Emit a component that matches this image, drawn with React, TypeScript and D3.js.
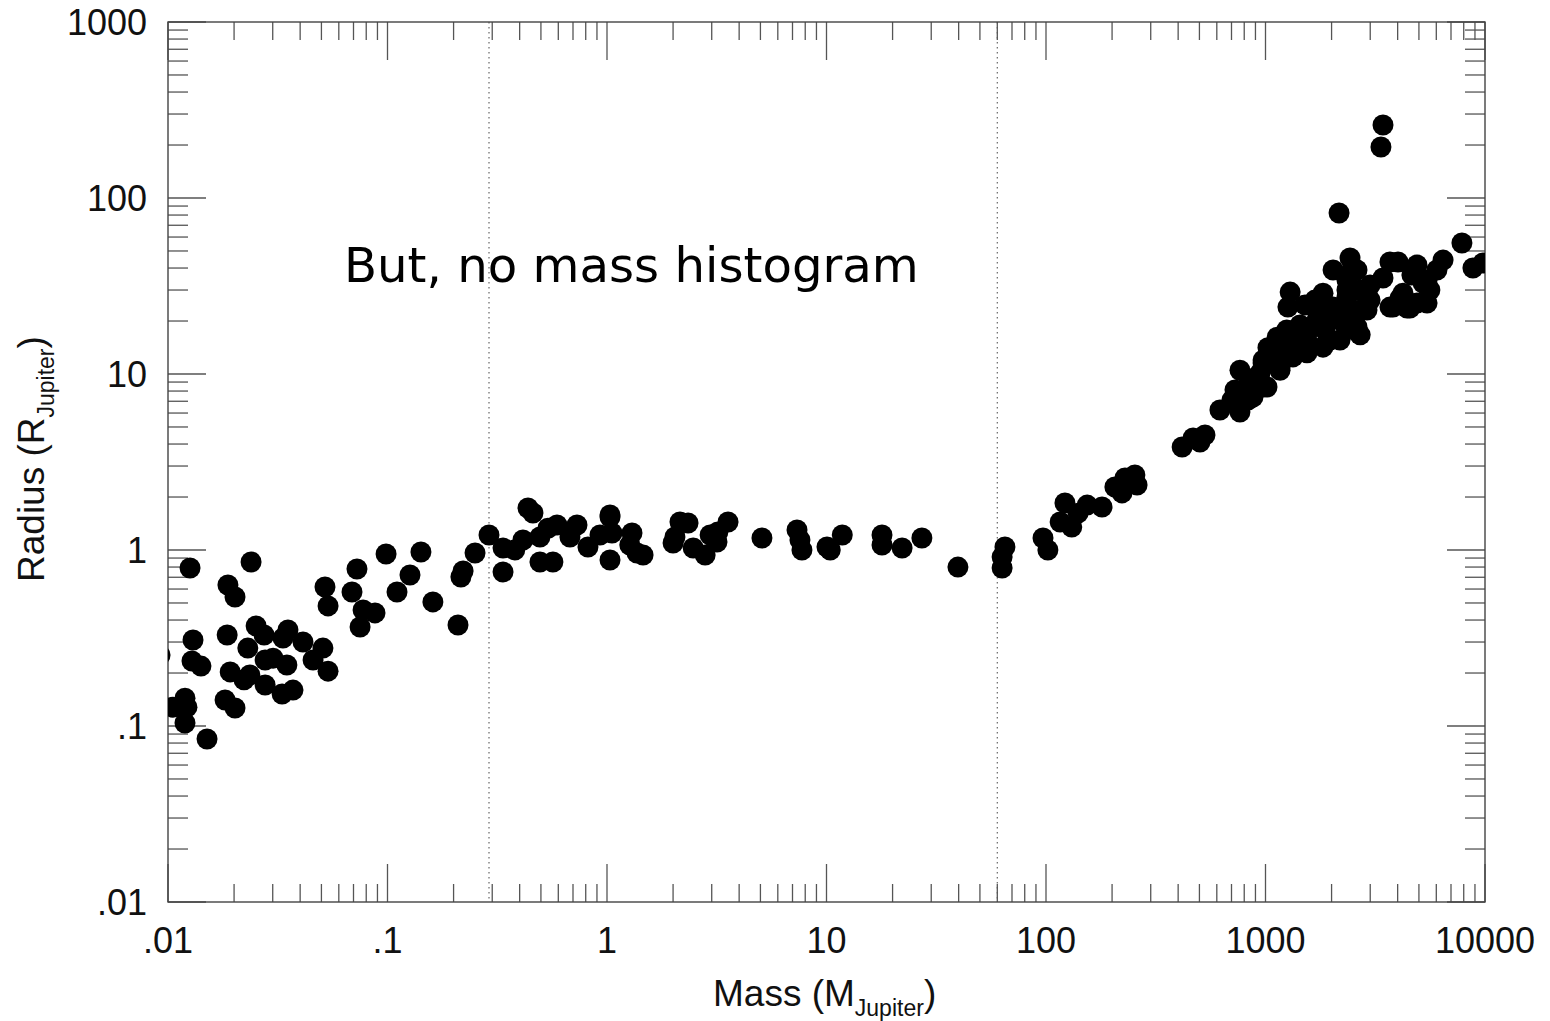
import React from "react";
import * as d3 from "d3";

// ---------- data (mass in M_Jupiter, radius in R_Jupiter) ----------
const massValues: number[] = [
  // low-mass cluster
  0.0126, 0.0239, 0.01875, 0.0202, 0.013, 0.0186, 0.01286, 0.01413, 0.0252, 0.0274,
  0.0231, 0.0352, 0.0334, 0.0412, 0.0192, 0.0222, 0.0236, 0.0277, 0.0301, 0.0348,
  0.0277, 0.0508, 0.0458, 0.0536, 0.0182, 0.0202, 0.0331, 0.0371, 0.01195, 0.01054,
  0.0122, 0.01195, 0.01506, 0.0519, 0.0536, 0.0726, 0.0689, 0.0774, 0.0877, 0.075,
  0.0985, 0.142, 0.1266, 0.1105, 0.161, 0.2095, 0.221, 0.216, 0.2505, 0.29,
  0.336, 0.336, 0.4365, 0.46, 0.414, 0.495, 0.592, 0.495, 0.567, 0.73,
  0.678, 0.819, 1.032, 1.032, 1.3, 1.37, 0.38, 0.538, 0.929, 0.0092,
  // planets / brown dwarfs plateau
  1.032, 1.054, 1.27, 1.46, 2.15, 2.04, 2.0, 2.34, 2.47, 2.8,
  2.95, 3.2, 3.56, 3.17, 5.08, 7.34, 7.57, 7.73, 10.05, 10.4,
  11.8, 17.9, 17.9, 22.1, 27.2, 39.7, 65.0, 63.1, 63.1, 96.9, 102,
  // stars
  122, 116, 131, 140, 154, 180, 206, 222, 229, 254,
  260, 417, 468, 530, 503, 620, 765, 765, 807, 832,
  877, 975, 975, 1050, 1130, 1250, 1265, 1165, 1295, 1437,
  1718, 2032, 2185, 2637, 2900, 3810, 4550, 5445,
  // upper right
  3430, 3357, 2163, 7850, 8810, 9790, 6440, 6040, 4900, 4645,
  5220, 5610, 4230, 3690, 4015, 3430, 4100, 3690, 4415, 4900,
  2427, 2612, 2032, 2350, 1828, 1295, 2900, 2500, 1718, 2118, 1968, 1026,
  // dense stellar clump
  2500, 5445, 1771, 2032, 2350, 2700, 2612, 2700, 1828, 1546,
  1082, 975, 824, 944, 1334, 1165, 1016, 1645, 2185, 1771,
  2350, 2995, 726, 703,
  1437, 1595, 1866, 2301, 1295, 1104, 895, 1228, 1680, 1514, 2995,
];

const radiusValues: number[] = [
  0.79, 0.855, 0.633, 0.541, 0.308, 0.329, 0.234, 0.219, 0.37, 0.329,
  0.277, 0.351, 0.316, 0.3, 0.203, 0.183, 0.195, 0.237, 0.243, 0.222,
  0.171, 0.277, 0.237, 0.205, 0.1406, 0.1265, 0.152, 0.16, 0.144, 0.128,
  0.128, 0.104, 0.0844, 0.616, 0.481, 0.78, 0.577, 0.456, 0.439, 0.365,
  0.949, 0.974, 0.721, 0.577, 0.507, 0.375, 0.76, 0.702, 0.962, 1.217,
  1.026, 0.75, 1.732, 1.623, 1.14, 1.185, 1.387, 0.855, 0.855, 1.387,
  1.185, 1.04, 1.54, 0.877, 1.249, 0.962, 1.0, 1.33, 1.217, 0.253,
  1.58, 1.249, 1.067, 0.937, 1.443, 1.185, 1.096, 1.424, 1.026, 0.937,
  1.217, 1.266, 1.443, 1.11, 1.17, 1.3, 1.14, 1.0, 1.04, 1.0,
  1.217, 1.217, 1.067, 1.026, 1.17, 0.8, 1.04, 0.912, 0.79, 1.17, 1.0,
  1.85, 1.443, 1.35, 1.62, 1.8, 1.755, 2.28, 2.11, 2.565, 2.67,
  2.34, 3.85, 4.33, 4.5, 4.11, 6.24, 6.08, 10.5, 8.11, 7.11,
  7.4, 8.44, 11.55, 13.2, 16.2, 17.8, 24.0, 10.96, 13.7, 15.6,
  20.3, 24.0, 15.6, 17.3, 23.1, 24.0, 23.7, 25.3,
  260, 195, 82.2, 55.5, 40.0, 42.7, 44.4, 39.0, 41.6, 36.5,
  32.9, 30.0, 28.8, 43.3, 43.3, 35.1, 27.0, 24.0, 23.7, 25.3,
  45.6, 39.0, 39.0, 30.0, 28.8, 29.2, 25.3, 23.1, 23.1, 21.1, 15.6, 14.1,
  40.5, 34.2, 21.1, 23.1, 27.4, 30.0, 18.5, 16.7, 14.2, 13.2,
  13.7, 12.0, 8.44, 10.1, 12.5, 10.5, 8.44, 18.5, 20.3, 25.3,
  34.2, 26.3, 8.11, 7.11,
  19.0, 14.6, 17.8, 19.0, 15.6, 12.8, 9.49, 14.6, 26.3, 24.7, 32.0,
];

const xTickValues = [0.01, 0.1, 1, 10, 100, 1000, 10000];
const xTickLabels = [".01", ".1", "1", "10", "100", "1000", "10000"];
const yTickValues = [0.01, 0.1, 1, 10, 100, 1000];
const yTickLabels = [".01", ".1", "1", "10", "100", "1000"];
const dividerMasses = [0.29, 60];
const annotation = "But, no mass histogram";

// ---------- layout ----------
const W = 1550;
const H = 1021;
const L = 168, R = 1485, T = 22, B = 902;

export default function App() {
  const x = d3.scaleLog().domain([0.01, 10000]).range([L, R]);
  const y = d3.scaleLog().domain([0.01, 1000]).range([B, T]);
  const isMajor = (v: number) => Math.abs(Math.log10(v) - Math.round(Math.log10(v))) < 1e-6;
  const xt = x.ticks();
  const yt = y.ticks();
  const tickColor = "#555";
  const pts = massValues.map((m, i) => [m, radiusValues[i]] as [number, number]);
  const helv = "'Liberation Sans', Arial, Helvetica, sans-serif";

  return (
    <svg width={W} height={H} style={{ position: "absolute", left: 0, top: 0, background: "#fff" }}
      xmlns="http://www.w3.org/2000/svg">
      <defs>
        <clipPath id="plotClip">
          <rect x={L} y={T} width={R - L} height={B - T} />
        </clipPath>
      </defs>
      <rect x={0} y={0} width={W} height={H} fill="#fff" />

      {/* dotted dividers */}
      {dividerMasses.map((m, i) => (
        <line key={"dv" + i} x1={x(m)} x2={x(m)} y1={T} y2={B}
          stroke="#666" strokeWidth={1.2} strokeDasharray="1.5,3.5" />
      ))}

      {/* ticks: bottom & top */}
      {xt.map((v, i) => {
        const len = isMajor(v) ? 38 : 18;
        const px = x(v);
        return (
          <g key={"xt" + i} stroke={tickColor} strokeWidth={1.3}>
            <line x1={px} x2={px} y1={B} y2={B - len} />
            <line x1={px} x2={px} y1={T} y2={T + len} />
          </g>
        );
      })}
      {/* ticks: left & right */}
      {yt.map((v, i) => {
        const len = isMajor(v) ? 38 : 20;
        const py = y(v);
        return (
          <g key={"yt" + i} stroke={tickColor} strokeWidth={1.3}>
            <line x1={L} x2={L + len} y1={py} y2={py} />
            <line x1={R} x2={R - len} y1={py} y2={py} />
          </g>
        );
      })}

      {/* frame */}
      <rect x={L} y={T} width={R - L} height={B - T} fill="none" stroke="#444" strokeWidth={1.4} />

      {/* points */}
      <g clipPath="url(#plotClip)">
        {pts.map((p, i) => (
          <circle key={"p" + i} cx={x(p[0])} cy={y(p[1])} r={10.5} fill="#000" />
        ))}
      </g>

      {/* tick labels */}
      {xTickValues.map((v, i) => (
        <text key={"xl" + i} x={x(v)} y={953} textAnchor="middle" fontFamily={helv} fontSize={36} fill="#111">
          {xTickLabels[i]}
        </text>
      ))}
      {yTickValues.map((v, i) => (
        <text key={"yl" + i} x={147} y={y(v) + 13} textAnchor="end" fontFamily={helv} fontSize={36} fill="#111">
          {yTickLabels[i]}
        </text>
      ))}

      {/* axis titles */}
      <text x={713} y={1006} fontFamily={helv} fontSize={37} fill="#111">
        Mass (M
        <tspan fontSize={23} dy={10}>Jupiter</tspan>
        <tspan dy={-10}>)</tspan>
      </text>
      <text transform="rotate(-90)" x={-582} y={44} fontFamily={helv} fontSize={37} fill="#111">
        Radius (R
        <tspan fontSize={23} dy={10}>Jupiter</tspan>
        <tspan dy={-10}>)</tspan>
      </text>

      {/* annotation */}
      <text x={344} y={282} fontFamily="'DejaVu Sans', sans-serif" fontSize={48.2} fill="#000">
        {annotation}
      </text>
    </svg>
  );
}
